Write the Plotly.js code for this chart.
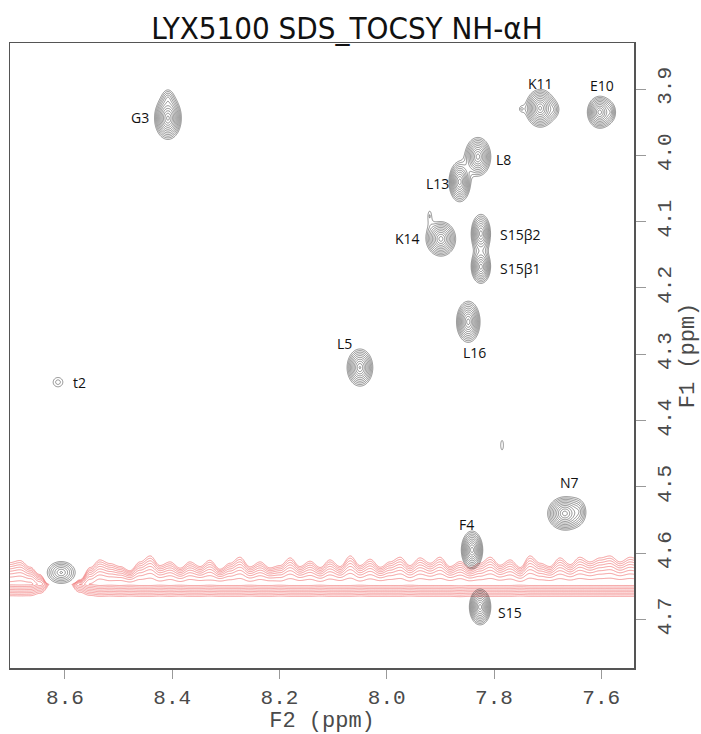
<!DOCTYPE html>
<html>
<head>
<meta charset="utf-8">
<script src="https://cdn.plot.ly/plotly-3.0.1.min.js"></script>
<style>
  html, body { margin: 0; padding: 0; background: #ffffff; }
  #chart { width: 701px; height: 734px; }
</style>
</head>
<body>
<div id="chart"></div>
<script>
// ---- axes -----------------------------------------------------------------
const xTicks = [8.6, 8.4, 8.2, 8.0, 7.8, 7.6];
const yTicks = [3.9, 4.0, 4.1, 4.2, 4.3, 4.4, 4.5, 4.6, 4.7];

// ---- cross peaks (positive contours) -----------------------------------------
// position (ppm), extent of the lowest contour (ppm), height in units of the lowest level
const peakF2      = [8.408, 7.714, 7.603, 7.830, 7.864, 7.899, 7.8245, 7.8245, 7.848, 8.050, 8.613, 7.668, 7.841, 7.826, 8.607, 7.785, 7.690, 7.749, 7.584, 7.643, 7.920, 8.408];
const peakF1      = [3.944, 3.929, 3.935, 4.002, 4.040, 4.126, 4.118,  4.168,  4.251, 4.320, 4.342, 4.540, 4.595, 4.681, 4.629, 4.437, 3.931, 3.930, 3.935, 4.537, 4.091, 3.915];
const peakWidthF2 = [0.050, 0.054, 0.046, 0.048, 0.040, 0.055, 0.036,  0.036,  0.044, 0.048, 0.018, 0.064, 0.040, 0.040, 0.052, 0.005, 0.016, 0.004, 0.016, 0.020, 0.005, 0.016];
const peakWidthF1 = [0.064, 0.057, 0.048, 0.058, 0.060, 0.052, 0.058,  0.050,  0.062, 0.056, 0.014, 0.050, 0.057, 0.054, 0.033, 0.014, 0.016, 0.004, 0.020, 0.025, 0.012, 0.022];
const peakHeight  = [20,    20,    16,    16,    16,    16,    12,     12,     16,    14,    1.6,   16,    16,    16,    6,     1.3,   2.0,   1.2,   2.5,   2.5,   1.3,   2.5];

// ---- assignments ------------------------------------------------------------
const labelText = ['G3', 'K11', 'E10', 'L8', 'L13', 'K14', 'S15β2', 'S15β1', 'L16', 'L5', 't2', 'N7', 'F4', 'S15'];
const labelF2   = [8.460, 7.714, 7.599, 7.783, 7.905, 7.961, 7.752, 7.752, 7.836, 8.078, 8.572, 7.659, 7.852, 7.770];
const labelF1   = [3.943, 3.891, 3.894, 4.007, 4.042, 4.125, 4.120, 4.170, 4.298, 4.283, 4.342, 4.493, 4.556, 4.689];

// ---- solvent ridge (negative contours) ----------------------------------------
const bandF2 = [8.703, 8.684, 8.665, 8.647, 8.628, 8.609, 8.591, 8.572, 8.553, 8.535, 8.516, 8.497, 8.479, 8.460, 8.441, 8.423,
                8.404, 8.385, 8.367, 8.348, 8.330, 8.311, 8.292, 8.274, 8.255, 8.236, 8.218, 8.199, 8.180, 8.162, 8.143, 8.124,
                8.106, 8.087, 8.068, 8.050, 8.031, 8.012, 7.994, 7.975, 7.957, 7.938, 7.919, 7.901, 7.882, 7.863, 7.845, 7.826,
                7.807, 7.789, 7.770, 7.751, 7.733, 7.714, 7.696, 7.677, 7.658, 7.640, 7.621, 7.602, 7.584, 7.565, 7.546, 7.528];
const bandTopF1 = [4.613, 4.610, 4.620, 4.629, 4.648, 4.648, 4.648, 4.638, 4.620, 4.610, 4.615, 4.620, 4.626, 4.613, 4.604, 4.618,
                   4.613, 4.622, 4.613, 4.620, 4.610, 4.624, 4.615, 4.606, 4.620, 4.613, 4.622, 4.618, 4.607, 4.620, 4.612, 4.621,
                   4.610, 4.620, 4.604, 4.618, 4.609, 4.621, 4.613, 4.606, 4.618, 4.607, 4.615, 4.606, 4.620, 4.613, 4.622, 4.615,
                   4.606, 4.618, 4.610, 4.621, 4.604, 4.615, 4.620, 4.607, 4.617, 4.606, 4.613, 4.607, 4.604, 4.613, 4.606, 4.610];
const bandAmp = [0.90, 0.92, 0.90, 0.60, 0.12, 0.08, 0.08, 0.50, 0.85, 1.00, 0.95, 1.00, 0.95, 1.00, 1.00, 0.95,
                 1.00, 0.95, 1.00, 1.00, 0.95, 1.00, 1.00, 1.00, 0.95, 1.00, 1.00, 0.95, 1.00, 1.00, 1.00, 0.95,
                 1.00, 1.00, 1.00, 0.95, 1.00, 1.00, 1.00, 1.00, 0.95, 1.00, 1.00, 1.00, 1.00, 1.05, 1.00, 1.00,
                 1.00, 1.00, 1.00, 0.95, 1.00, 1.00, 1.00, 1.00, 1.00, 1.00, 1.00, 1.00, 1.00, 1.00, 1.00, 1.00];
const bandCoreF1   = 4.647;
const bandBottomF1 = 4.665;
const bandHeight   = 7.5;

const LEVEL_RATIO = 1.33;   // ratio between successive contour levels
const BAND_RATIO  = 1.3;
const SHAPE_POWER = 1.3;    // radial decay exponent of the peak line shape

// ---- helpers ----------------------------------------------------------------
function range(a, b, step) {
  const out = [];
  const n = Math.round((b - a) / step);
  for (let i = 0; i <= n; i++) out.push(a + i * step);
  return out;
}

function interpBand(arr, x) {
  // bandF2 runs high -> low; cosine easing rounds the ripples
  if (x >= bandF2[0]) return arr[0];
  for (let i = 0; i < bandF2.length - 1; i++) {
    const a = bandF2[i], b = bandF2[i + 1];
    if (x <= a && x >= b) {
      const t = (a - x) / (a - b);
      const e = (1 - Math.cos(Math.PI * t)) / 2;
      return arr[i] + e * (arr[i + 1] - arr[i]);
    }
  }
  return arr[arr.length - 1];
}

// group overlapping peaks so that merged peaks share one contour grid
const nPeaks = peakF2.length;
const boxes = [];
for (let i = 0; i < nPeaks; i++) {
  boxes.push({
    x0: peakF2[i] - 0.9 * peakWidthF2[i] - 0.004, x1: peakF2[i] + 0.9 * peakWidthF2[i] + 0.004,
    y0: peakF1[i] - 0.9 * peakWidthF1[i] - 0.004, y1: peakF1[i] + 0.9 * peakWidthF1[i] + 0.004
  });
}
const parent = boxes.map((_, i) => i);
const find = i => (parent[i] === i ? i : (parent[i] = find(parent[i])));
for (let i = 0; i < nPeaks; i++) {
  for (let j = i + 1; j < nPeaks; j++) {
    const a = boxes[i], b = boxes[j];
    if (a.x0 < b.x1 && b.x0 < a.x1 && a.y0 < b.y1 && b.y0 < a.y1) parent[find(i)] = find(j);
  }
}
const clusters = {};
for (let i = 0; i < nPeaks; i++) (clusters[find(i)] = clusters[find(i)] || []).push(i);

const traces = [];

// negative ridge first so the cross peaks sit on top of it
(function () {
  const xs = range(7.528, 8.703, 0.0012);
  const ys = range(4.590, 4.674, 0.0006);
  const peakLog = Math.log10(bandHeight);
  const z = ys.map(y => xs.map(x => {
    const amp = interpBand(bandAmp, x);
    const top = interpBand(bandTopF1, x);
    // sharp, evenly stepped lower flank; broader, rippled upper flank
    const d = y >= bandCoreF1 ? (y - bandCoreF1) / (bandBottomF1 - bandCoreF1)
                              : Math.pow((bandCoreF1 - y) / Math.max(bandCoreF1 - top, 0.004), 1.6);
    return Math.log10(bandHeight * amp) - d * peakLog;
  }));
  traces.push({
    type: 'contour', x: xs, y: ys, z: z,
    autocontour: false,
    contours: { start: 0.0001, end: peakLog + 0.1, size: Math.log10(BAND_RATIO), coloring: 'none' },
    line: { color: 'rgb(240,115,115)', width: 0.7, smoothing: 1 },
    showscale: false, hoverinfo: 'skip'
  });
})();

Object.values(clusters).forEach(members => {
  let x0 = Infinity, x1 = -Infinity, y0 = Infinity, y1 = -Infinity, hmax = 1;
  members.forEach(i => {
    x0 = Math.min(x0, boxes[i].x0); x1 = Math.max(x1, boxes[i].x1);
    y0 = Math.min(y0, boxes[i].y0); y1 = Math.max(y1, boxes[i].y1);
    hmax = Math.max(hmax, peakHeight[i]);
  });
  const xs = range(x0, x1, 0.0009);
  const ys = range(y0, y1, 0.0007);
  const scale = members.map(i => Math.pow(Math.log(peakHeight[i]), 1 / SHAPE_POWER));
  const sx = members.map((i, k) => (peakWidthF2[i] / 2) / scale[k]);
  const sy = members.map((i, k) => (peakWidthF1[i] / 2) / scale[k]);
  const z = ys.map(y => xs.map(x => {
    let s = 0;
    members.forEach((i, k) => {
      const u = (x - peakF2[i]) / sx[k], v = (y - peakF1[i]) / sy[k];
      s += peakHeight[i] * Math.exp(-Math.pow(u * u + v * v, SHAPE_POWER / 2));
    });
    return Math.log10(Math.max(s, 1e-3));
  }));
  traces.push({
    type: 'contour', x: xs, y: ys, z: z,
    autocontour: false,
    contours: { start: 0.0001, end: Math.log10(hmax * 1.3), size: Math.log10(LEVEL_RATIO), coloring: 'none' },
    line: { color: '#262626', width: 0.5, smoothing: 0.8 },
    showscale: false, hoverinfo: 'skip'
  });
});

const annotations = labelText.map((t, i) => ({
  x: labelF2[i], y: labelF1[i], xref: 'x', yref: 'y',
  text: t, showarrow: false, xanchor: 'center', yanchor: 'middle',
  font: { family: 'Open Sans, Liberation Sans, sans-serif', size: 14, color: '#111' }
}));

const monoFamily = 'Liberation Mono, DejaVu Sans Mono, monospace';
const tickFont = { family: monoFamily, size: 21, color: '#4a4a4a' };

const layout = {
  width: 701, height: 734,
  margin: { l: 10, r: 67, t: 43, b: 66 },
  paper_bgcolor: '#ffffff', plot_bgcolor: '#ffffff',
  showlegend: false,
  title: {
    text: 'LYX5100 SDS_TOCSY NH-αH',
    font: { family: 'Liberation Sans Narrow, DejaVu Sans Condensed, sans-serif', size: 31, color: '#111' },
    xref: 'container', x: 0.495, xanchor: 'center',
    yref: 'container', y: 0.961, yanchor: 'middle'
  },
  xaxis: {
    range: [8.7025, 7.539],
    tickvals: xTicks, ticktext: xTicks.map(v => v.toFixed(1)),
    ticks: 'outside', ticklen: 9, tickwidth: 1, tickcolor: '#999',
    showline: true, mirror: true, linecolor: '#555', linewidth: 1.5,
    showgrid: false, zeroline: false,
    tickfont: tickFont,
    title: { text: '\u00a0\u00a0F2 (ppm)', font: { family: monoFamily, size: 22, color: '#4a4a4a' }, standoff: 8 }
  },
  yaxis: {
    side: 'right',
    range: [4.773, 3.8306],
    tickvals: yTicks, ticktext: yTicks.map(v => v.toFixed(1)),
    tickangle: -90,
    ticks: 'outside', ticklen: 10, tickwidth: 1, tickcolor: '#999',
    showline: true, mirror: true, linecolor: '#555', linewidth: 1.5,
    showgrid: false, zeroline: false,
    tickfont: tickFont,
    title: { text: 'F1 (ppm)', font: { family: monoFamily, size: 22, color: '#4a4a4a' }, standoff: 6 }
  },
  annotations: annotations
};

Plotly.newPlot('chart', traces, layout, { displayModeBar: false, staticPlot: true });
</script>
</body>
</html>
